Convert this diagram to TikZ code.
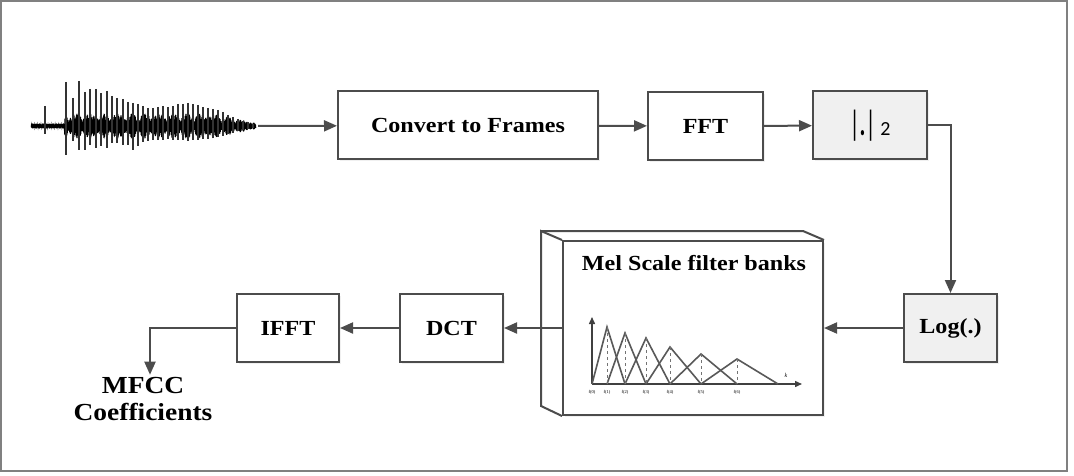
\documentclass[tikz,border=0pt]{standalone}
\usepackage{fontspec}
\setmainfont{Liberation Serif}
\newfontfamily\lblfont{Liberation Serif}[FakeStretch=1.12]
\newfontfamily\calfont{Carlito}
\usetikzlibrary{arrows.meta,shadows}

\begin{document}
\begin{tikzpicture}[x=1pt,y=-1pt,
    blk/.style={draw=black!70,line width=2pt,fill=white,minimum width=#1,minimum height=68pt,inner sep=0pt,
      font=\lblfont\fontsize{21.5}{24}\selectfont\bfseries,drop shadow={shadow xshift=2pt,shadow yshift=-2pt,opacity=0.12}},
    flow/.style={draw=black!70,line width=2pt,-{Triangle[length=13pt,width=11pt]}},
    spike/.style={black!80,line width=1.2pt},
    tri/.style={black!65,line width=1.6pt},
    lab/.style={font=\fontsize{4.5}{5}\selectfont,inner sep=1pt}]
  \useasboundingbox (0,0) rectangle (1074,476);
  \draw[black!50,line width=2pt] (1,1) rectangle (1067,471);

  % speech signal
  \draw[black,line width=0.6pt] plot[domain=0:700,samples=701,variable=\t]
    ({31+\t*0.3214},{126+(1-2*mod(round(\t),2))*(0.5+0.5*abs(sin(\t*17)))*(2.5+(\t>103)*min(1,(227-0.3214*\t)/45)*(4+6*abs(sin(403+4.18*\t))))});
  \foreach \px/\up/\dn in {45/20/8,66/44/29,73/28/15,79/45/24,85/34/24,90/37/19,96/37/22,101/33/20,
      107/35/22,112/30/17,117/28/17,123/27/19,128/24/19,133/23/24,138/22/20,143/20/16,148/18/15,
      153/18/14,158/19/14,163/20/14,168/19/13,173/20/14,178/22/14,183/22/14,188/23/15,193/22/14,
      198/21/14,203/19/13,208/18/13,213/17/12,218/16/11,223/14/10,228/11/8,233/9/7,238/7/5,
      243/5/4,248/4/3,253/2/2}
    \draw[spike] (\px,126-\up) -- (\px,126+\dn);
  \coordinate (wavend) at (258,126);

  \node[blk=260pt] (frames) at (468,125.5) {Convert to Frames};
  \node[blk=115pt] (fft) at (705.5,126) {FFT};
  \node[blk=114pt,fill=gray!12] (absq) at (870,125.5)
    {\calfont\mdseries\scalebox{1}[1.6]{\fontsize{22}{22}\selectfont|\textbf{.}|}\fontsize{20}{22}\selectfont\ 2};
  \node[blk=93pt,fill=gray!12] (logb) at (950.5,328) {Log(.)};
  \node[blk=260pt,minimum height=174pt,drop shadow={opacity=0}] (mel) at (693,328) {};
  \node[blk=103pt] (dct) at (451.5,328) {DCT};
  \node[blk=102pt] (ifft) at (288,328) {IFFT};
  \node[font=\lblfont\fontsize{24.5}{27}\selectfont\bfseries,align=center] (mfcc) at (143,399) {MFCC\\Coefficients};

  % mel box depth
  \draw[black!70,line width=2pt] (mel.north west) -- +(-21,-9) -- ([shift={(-21,-10)}]mel.south west) -- (mel.south west);
  \draw[black!70,line width=2pt] ([shift={(-21,-9)}]mel.north west) -- ([shift={(-21,-9)}]mel.north east) -- (mel.north east);
  \node[font=\lblfont\fontsize{21.5}{24}\selectfont\bfseries] (meltitle) at (694,263) {Mel Scale filter banks};

  % filter bank
  \draw[black!75,line width=1.4pt,-{Triangle[length=7pt,width=6pt]}] (592,384) -- (592,317);
  \draw[black!75,line width=1.4pt,-{Triangle[length=7pt,width=6pt]}] (592,384) -- (802,384);
  \draw[tri] (592,384) -- (607,327) -- (625,384);
  \draw[tri] (607,384) -- (625,333) -- (646,384);
  \draw[tri] (625,384) -- (646,338) -- (670,384);
  \draw[tri] (646,384) -- (670,347) -- (701,384);
  \draw[tri] (670,384) -- (701,354) -- (737,384);
  \draw[tri] (701,384) -- (737,359) -- (778,384);
  \foreach \fx/\fy in {607/327,625/333,646/338,670/347,701/354,737/359}
    \draw[black!55,dashed,line width=0.8pt] (\fx,\fy) -- (\fx,384);
  \foreach \fx [count=\i from 0] in {592,607,625,646,670,701,737}
    \node[lab] (f\i) at (\fx,392) {f(\i)};
  \node[lab,font=\fontsize{6}{6}\selectfont\itshape] (kax) at (786,375) {k};

  \draw[flow] (wavend) -- (frames);
  \draw[flow] (frames) -- (fft);
  \draw[flow] (fft) -- (absq);
  \draw[flow] (absq) -| (logb);
  \draw[flow] (logb) -- (mel);
  \draw[flow] (mel) -- (dct);
  \draw[flow] (dct) -- (ifft);
  \draw[flow] (ifft) -| ([xshift=7pt,yshift=-1pt]mfcc.north);
\end{tikzpicture}
\end{document}
